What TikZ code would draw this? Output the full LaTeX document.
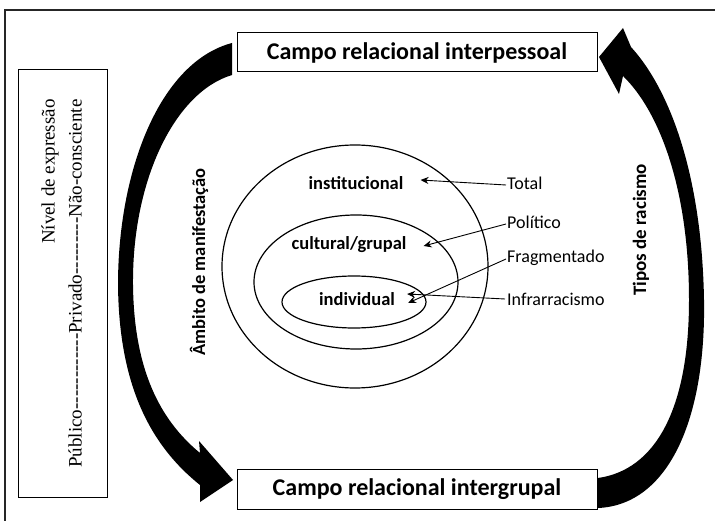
\documentclass[tikz,border=0pt]{standalone}
\usepackage{fontspec}
\setmainfont{Carlito}
\newfontfamily\lbserif{Liberation Serif}[Ligatures=TeXOff]
\usetikzlibrary{arrows.meta}
\begin{document}
\begin{tikzpicture}[x=1pt,y=-1pt,
  box/.style={draw, line width=1pt, inner sep=0pt},
  bigtxt/.style={font=\fontsize{24}{26}\selectfont\bfseries},
  lbl/.style={font=\fontsize{18.5}{20}\selectfont\bfseries, inner sep=0pt},
  typ/.style={font=\fontsize{18}{20}\selectfont, anchor=west, inner sep=0pt},
  pointer/.style={line width=0.9pt, -{Stealth[length=8pt,width=7pt]}},
  ring/.style={draw, line width=1.2pt},
  blackarrow/.style={fill=black}]
\useasboundingbox (0,0) rectangle (715,521);
% frame
\draw[line width=1.6pt, black!85] (5,521) -- (5,10) -- (715,10);
% boxes
\node[box, bigtxt, minimum width=360pt, minimum height=39pt] (top) at (417,52.5) {Campo relacional interpessoal};
\node[box, bigtxt, minimum width=360pt, minimum height=40pt] (bot) at (417,489) {Campo relacional intergrupal};
\node[box, minimum width=89pt, minimum height=427pt] (lbox) at (62.5,283.5) {};
\node[rotate=90, align=right, inner sep=0pt, font=\lbserif\fontsize{19}{27}\selectfont] (lvl) at ([xshift=-1pt]lbox.center)
  {Nível de expressão\\Público------------Privado---------Não-consciente};
% ellipses
\draw[ring] (355,266.5) ellipse [x radius=133, y radius=121.5];
\draw[ring] (356,282) ellipse [x radius=102, y radius=67];
\draw[ring] (354,302) ellipse [x radius=72, y radius=26];
% inner labels
\node[lbl] (inst) at (356,183) {institucional};
\node[lbl] (cult) at (349,245) {cultural/grupal};
\node[lbl] (indv) at (357,299) {individual};
% type labels
\node[typ] (tot) at (507,183) {Total};
\node[typ] (pol) at (507,222) {Político};
\node[typ] (frag) at (507,258) {Fragmentado};
\node[typ] (infra) at (507,299) {Infrarracismo};
\draw[pointer] ([xshift=-1pt,yshift=-2pt]tot.west) -- ([xshift=17pt,yshift=3pt]inst.east);
\draw[pointer] ([xshift=-1pt,yshift=-2pt]pol.west) -- ([xshift=17pt,yshift=-1pt]cult.east);
\draw[pointer] ([xshift=-1pt,yshift=-1pt]frag.west) -- ([xshift=13pt,yshift=-4pt]indv.east);
\draw[pointer] ([xshift=-2pt]infra.west) -- ([xshift=12pt,yshift=5pt]indv.east);
% vertical labels
\node[lbl, rotate=90] (amb) at (199,262) {Âmbito de manifestação};
\node[lbl, rotate=90, font=\fontsize{19}{20}\selectfont\bfseries] (tipos) at (641,230) {Tipos de racismo};
% big curved arrows
\fill[blackarrow] (232,43) .. controls (160,62) and (118,170) .. (118,285)
  .. controls (119,385) and (150,445) .. (200,485) -- (200,502) -- (233,480) -- (199,441) -- (200,453)
  .. controls (160,420) and (134,370) .. (133,285) .. controls (132,180) and (175,92) .. (232,75) -- cycle;
\fill[blackarrow] (598,508) .. controls (668,505) and (706,420) .. (704,300)
  .. controls (702,180) and (672,92) .. (631,47) -- (623,28) -- (599,57) -- (619,94) -- (623,76)
  .. controls (660,112) and (689,190) .. (689,300) .. controls (689,410) and (655,470) .. (598,478) -- cycle;
\end{tikzpicture}
\end{document}
